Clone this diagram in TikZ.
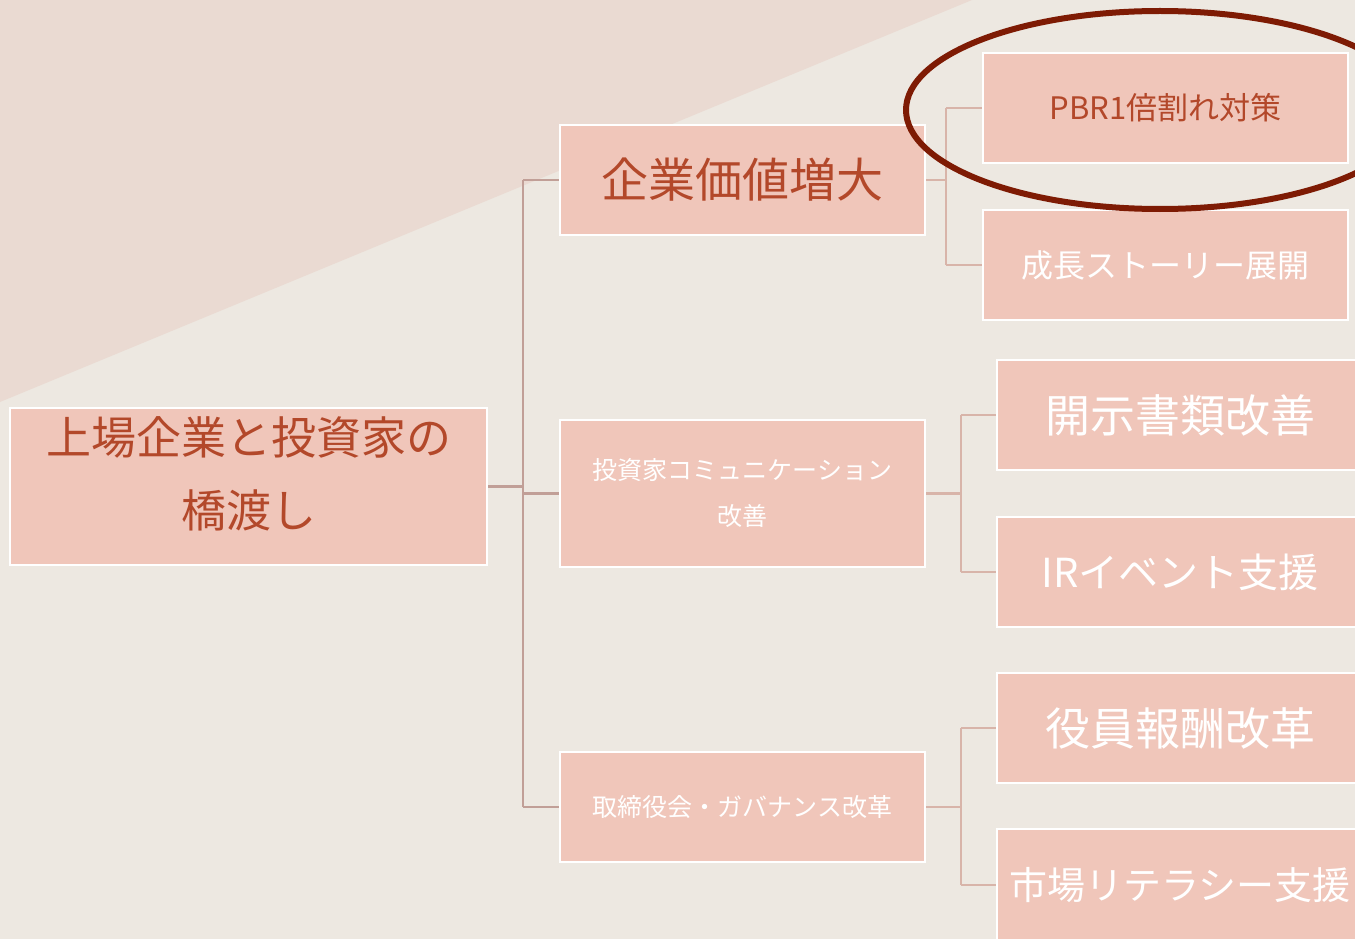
\documentclass[tikz,border=0pt]{standalone}
\usepackage{fontspec}
\setmainfont{Noto Sans CJK JP}
\definecolor{bg}{HTML}{EDE8E1}
\definecolor{tri}{HTML}{EADAD2}
\definecolor{boxfill}{HTML}{F0C6BA}
\definecolor{rust}{HTML}{B3482A}
\definecolor{connA}{HTML}{C19F97}
\definecolor{connB}{HTML}{D8B4A9}
\definecolor{ring}{HTML}{7E1B04}
\begin{document}
\begin{tikzpicture}[x=1pt,y=-1pt,
  boxnode/.style={draw=white, line width=2.5pt, fill=boxfill, inner sep=0pt, align=center},
  wtext/.style={text=white},
  rtext/.style={text=rust},
  connmain/.style={draw=connA, line width=2.5pt},
  connsub/.style={draw=connB, line width=2.5pt}]
\useasboundingbox (0,0) rectangle (1355,939);
\clip (0,0) rectangle (1355,939);
\fill[bg] (0,0) rectangle (1355,939);
\fill[tri] (0,0) -- (972,0) -- (0,402) -- cycle;

% junction coordinates
\coordinate (j0) at (523,486.5);
\coordinate (j1) at (946,180);
\coordinate (j2) at (961,493.5);
\coordinate (j3) at (961,807);

% nodes
\node[boxnode, minimum width=477pt, minimum height=157pt] (root) at (248.5,486.5) {};
\node[rtext, align=center, inner sep=0pt, font=\fontsize{45}{73}\selectfont] (roottext) at (248.5,474) {上場企業と投資家の\\橋渡し};
\node[boxnode, rtext, minimum width=365pt, minimum height=110pt, font=\fontsize{47}{56}\selectfont] (n1) at (742.5,180) {企業価値増大};
\node[boxnode, wtext, minimum width=365pt, minimum height=147pt, font=\fontsize{25}{46}\selectfont] (n2) at (742.5,493.5) {投資家コミュニケーション\\改善};
\node[boxnode, wtext, minimum width=365pt, minimum height=110pt, font=\fontsize{25}{30}\selectfont] (n3) at (742.5,807) {取締役会・ガバナンス改革};

\node[boxnode, rtext, minimum width=365pt, minimum height=110pt, font=\fontsize{31}{36}\selectfont] (a1) at (1165.5,108) {PBR1倍割れ対策};
\node[boxnode, wtext, minimum width=365pt, minimum height=110pt, font=\fontsize{32}{38}\selectfont] (a2) at (1165.5,265) {成長ストーリー展開};
\node[boxnode, wtext, minimum width=366pt, minimum height=110pt, font=\fontsize{45}{50}\selectfont] (b1) at (1180,415) {開示書類改善};
\node[boxnode, wtext, minimum width=366pt, minimum height=110pt, font=\fontsize{40}{50}\selectfont] (b2) at (1180,572) {IRイベント支援};
\node[boxnode, wtext, minimum width=366pt, minimum height=110pt, font=\fontsize{45}{50}\selectfont] (c1) at (1180,728) {役員報酬改革};
\node[boxnode, wtext, minimum width=366pt, minimum height=112pt, font=\fontsize{38}{50}\selectfont] (c2) at (1180,885) {市場リテラシー支援};

% connectors
\draw[connmain] (root.east) -- (j0);
\draw[connmain] (j0 |- n1.west) -- (j0 |- n3.west);
\draw[connmain] (j0 |- n1.west) -- (n1.west);
\draw[connmain] (j0 |- n2.west) -- (n2.west);
\draw[connmain] (j0 |- n3.west) -- (n3.west);

\draw[connsub] (n1.east) -- (j1);
\draw[connsub] (j1 |- a1.west) -- (j1 |- a2.west);
\draw[connsub] (j1 |- a1.west) -- (a1.west);
\draw[connsub] (j1 |- a2.west) -- (a2.west);

\draw[connsub] (n2.east) -- (j2);
\draw[connsub] (j2 |- b1.west) -- (j2 |- b2.west);
\draw[connsub] (j2 |- b1.west) -- (b1.west);
\draw[connsub] (j2 |- b2.west) -- (b2.west);

\draw[connsub] (n3.east) -- (j3);
\draw[connsub] (j3 |- c1.west) -- (j3 |- c2.west);
\draw[connsub] (j3 |- c1.west) -- (c1.west);
\draw[connsub] (j3 |- c2.west) -- (c2.west);

% highlight ring
\draw[ring, line width=6pt] (1160,110) ellipse [x radius=254, y radius=99];
\end{tikzpicture}
\end{document}
